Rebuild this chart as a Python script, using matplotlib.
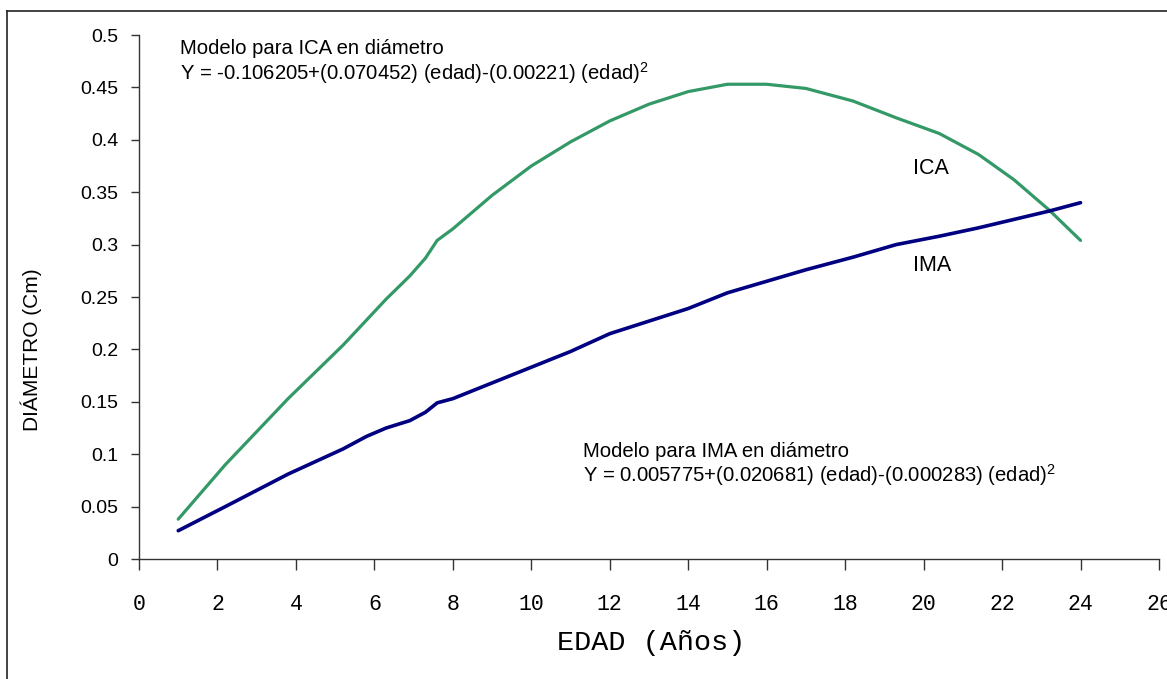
import matplotlib
matplotlib.use("Agg")
import matplotlib.pyplot as plt
from matplotlib.lines import Line2D

# Data
edad = [1, 2.2, 3.8, 5.2, 5.8, 6.3, 6.9, 7.3, 7.6, 8, 9, 10, 11, 12, 13, 14,
        15, 16, 17, 18.2, 19.3, 20.4, 21.4, 22.3, 23.2, 24]
ica = [0.038, 0.090, 0.153, 0.204, 0.228, 0.248, 0.270, 0.287, 0.304, 0.315,
       0.347, 0.375, 0.398, 0.418, 0.434, 0.446, 0.453, 0.453, 0.449, 0.437,
       0.421, 0.406, 0.386, 0.362, 0.333, 0.304]
ima = [0.027, 0.050, 0.081, 0.105, 0.117, 0.125, 0.132, 0.140, 0.149, 0.153,
       0.168, 0.183, 0.198, 0.215, 0.227, 0.239, 0.254, 0.265, 0.276, 0.288,
       0.300, 0.308, 0.316, 0.324, 0.332, 0.340]
xticks = list(range(0, 27, 2))
yticks = [0, 0.05, 0.1, 0.15, 0.2, 0.25, 0.3, 0.35, 0.4, 0.45, 0.5]
ytick_labels = ["0", "0.05", "0.1", "0.15", "0.2", "0.25", "0.3", "0.35",
                "0.4", "0.45", "0.5"]

plt.rcParams['mathtext.fontset'] = 'custom'
plt.rcParams['mathtext.rm'] = 'Liberation Sans'
plt.rcParams['mathtext.it'] = 'Liberation Sans'

W, H = 1167, 679
fig = plt.figure(figsize=(W / 100, H / 100), dpi=100)
ax = fig.add_axes([139 / W, 1 - 559 / H, 1020 / W, 524 / H])

ax.plot(edad, ica, color="#339966", lw=2.3, solid_joinstyle="round",
        solid_capstyle="round", clip_on=False)
ax.plot(edad, ima, color="#000080", lw=2.6, solid_joinstyle="round",
        solid_capstyle="round", clip_on=False)

ax.set_xlim(0, 26)
ax.set_ylim(0, 0.5)
ax.set_xticks(xticks)
ax.set_xticklabels([str(t) for t in xticks], family="Liberation Mono",
                   fontsize=15.5)
ax.set_yticks(yticks)
ax.set_yticklabels(ytick_labels, family="Liberation Sans", fontsize=14)

for s in ["top", "right"]:
    ax.spines[s].set_visible(False)
for s in ["left", "bottom"]:
    ax.spines[s].set_color("#333333")
    ax.spines[s].set_linewidth(1.0)
ax.tick_params(axis="y", direction="out", length=6, width=1.0,
               color="#333333", pad=9)
ax.tick_params(axis="x", direction="out", length=8, width=1.0,
               color="#333333", pad=17)

ax.set_xlabel("EDAD (Años)", family="Liberation Mono", fontsize=20.5)
ax.xaxis.set_label_coords(0.502, -0.136)
ax.set_ylabel("DIÁMETRO (Cm)", family="Liberation Sans", fontsize=15)
ax.yaxis.set_label_coords(-0.095, 0.40)

ax.text(1.04, 0.496,
        "Modelo para ICA en diámetro\n"
        "Y = -0.106205+(0.070452) (edad)-(0.00221) (edad)$^{2}$",
        family="Liberation Sans", fontsize=14.6, va="top", ha="left",
        linespacing=1.1)
ax.text(11.31, 0.112,
        "Modelo para IMA en diámetro\n"
        "Y = 0.005775+(0.020681) (edad)-(0.000283) (edad)$^{2}$",
        family="Liberation Sans", fontsize=14.6, va="top", ha="left",
        linespacing=1.1)
ax.text(19.72, 0.373, "ICA", family="Liberation Sans", fontsize=15.5,
        va="center", ha="left")
ax.text(19.72, 0.280, "IMA", family="Liberation Sans", fontsize=15.5,
        va="center", ha="left")

# Outer chart border (left and top edges visible)
fig.add_artist(Line2D([7 / W, 7 / W], [0, 1 - 11 / H], transform=fig.transFigure,
                      color="#222222", lw=1.2))
fig.add_artist(Line2D([7 / W, 1], [1 - 11 / H, 1 - 11 / H],
                      transform=fig.transFigure, color="#222222", lw=1.2))

fig.savefig("out.png", dpi=100)
